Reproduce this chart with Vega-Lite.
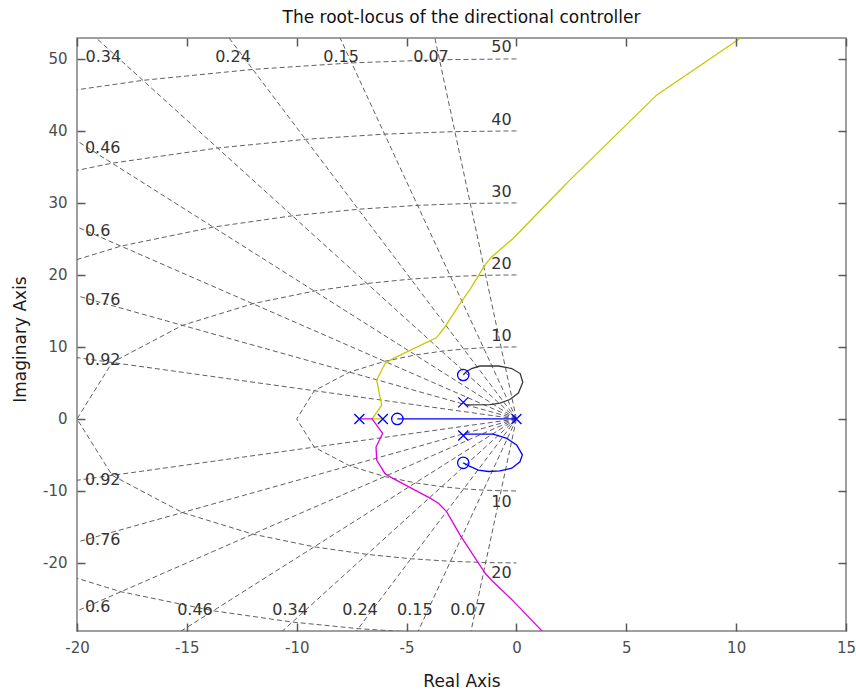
{
  "$schema": "https://vega.github.io/schema/vega-lite/v6.json",
  "width": 769,
  "height": 593,
  "autosize": "none",
  "padding": {"left": 77, "top": 38, "right": 10, "bottom": 61},
  "title": {"text": "The root-locus of the directional controller", "font": "DejaVu Sans", "fontSize": 17, "fontWeight": "normal", "color": "#111111", "offset": 15, "dy": 18, "baseline": "alphabetic", "anchor": "middle"},
  "datasets": {
    "rays": [
      {"g": "0.92u", "o": 0, "x": 0, "y": 0}, {"g": "0.92u", "o": 1, "x": -92, "y": 39.19},
      {"g": "0.92l", "o": 0, "x": 0, "y": 0}, {"g": "0.92l", "o": 1, "x": -92, "y": -39.19},
      {"g": "0.76u", "o": 0, "x": 0, "y": 0}, {"g": "0.76u", "o": 1, "x": -76, "y": 64.99},
      {"g": "0.76l", "o": 0, "x": 0, "y": 0}, {"g": "0.76l", "o": 1, "x": -76, "y": -64.99},
      {"g": "0.6u", "o": 0, "x": 0, "y": 0}, {"g": "0.6u", "o": 1, "x": -60, "y": 80},
      {"g": "0.6l", "o": 0, "x": 0, "y": 0}, {"g": "0.6l", "o": 1, "x": -60, "y": -80},
      {"g": "0.46u", "o": 0, "x": 0, "y": 0}, {"g": "0.46u", "o": 1, "x": -46, "y": 88.79},
      {"g": "0.46l", "o": 0, "x": 0, "y": 0}, {"g": "0.46l", "o": 1, "x": -46, "y": -88.79},
      {"g": "0.34u", "o": 0, "x": 0, "y": 0}, {"g": "0.34u", "o": 1, "x": -34, "y": 94.04},
      {"g": "0.34l", "o": 0, "x": 0, "y": 0}, {"g": "0.34l", "o": 1, "x": -34, "y": -94.04},
      {"g": "0.24u", "o": 0, "x": 0, "y": 0}, {"g": "0.24u", "o": 1, "x": -24, "y": 97.08},
      {"g": "0.24l", "o": 0, "x": 0, "y": 0}, {"g": "0.24l", "o": 1, "x": -24, "y": -97.08},
      {"g": "0.15u", "o": 0, "x": 0, "y": 0}, {"g": "0.15u", "o": 1, "x": -15, "y": 98.87},
      {"g": "0.15l", "o": 0, "x": 0, "y": 0}, {"g": "0.15l", "o": 1, "x": -15, "y": -98.87},
      {"g": "0.07u", "o": 0, "x": 0, "y": 0}, {"g": "0.07u", "o": 1, "x": -7, "y": 99.75},
      {"g": "0.07l", "o": 0, "x": 0, "y": 0}, {"g": "0.07l", "o": 1, "x": -7, "y": -99.75}
    ],
    "circles": [
      {"g": "r10", "o": 0, "x": 0, "y": 10}, {"g": "r10", "o": 1, "x": -0.7, "y": 9.975}, {"g": "r10", "o": 2, "x": -1.5, "y": 9.887}, {"g": "r10", "o": 3, "x": -2.4, "y": 9.708}, {"g": "r10", "o": 4, "x": -3.4, "y": 9.404}, {"g": "r10", "o": 5, "x": -4.6, "y": 8.879}, {"g": "r10", "o": 6, "x": -6, "y": 8}, {"g": "r10", "o": 7, "x": -7.6, "y": 6.499}, {"g": "r10", "o": 8, "x": -9.2, "y": 3.919}, {"g": "r10", "o": 9, "x": -10, "y": 0},
      {"g": "r10", "o": 10, "x": -9.2, "y": -3.919}, {"g": "r10", "o": 11, "x": -7.6, "y": -6.499}, {"g": "r10", "o": 12, "x": -6, "y": -8}, {"g": "r10", "o": 13, "x": -4.6, "y": -8.879}, {"g": "r10", "o": 14, "x": -3.4, "y": -9.404}, {"g": "r10", "o": 15, "x": -2.4, "y": -9.708}, {"g": "r10", "o": 16, "x": -1.5, "y": -9.887}, {"g": "r10", "o": 17, "x": -0.7, "y": -9.975}, {"g": "r10", "o": 18, "x": 0, "y": -10},
      {"g": "r20", "o": 0, "x": 0, "y": 20}, {"g": "r20", "o": 1, "x": -1.4, "y": 19.95}, {"g": "r20", "o": 2, "x": -3, "y": 19.77}, {"g": "r20", "o": 3, "x": -4.8, "y": 19.42}, {"g": "r20", "o": 4, "x": -6.8, "y": 18.81}, {"g": "r20", "o": 5, "x": -9.2, "y": 17.76}, {"g": "r20", "o": 6, "x": -12, "y": 16}, {"g": "r20", "o": 7, "x": -15.2, "y": 13}, {"g": "r20", "o": 8, "x": -18.4, "y": 7.84}, {"g": "r20", "o": 9, "x": -20, "y": 0},
      {"g": "r20", "o": 10, "x": -18.4, "y": -7.84}, {"g": "r20", "o": 11, "x": -15.2, "y": -13}, {"g": "r20", "o": 12, "x": -12, "y": -16}, {"g": "r20", "o": 13, "x": -9.2, "y": -17.76}, {"g": "r20", "o": 14, "x": -6.8, "y": -18.81}, {"g": "r20", "o": 15, "x": -4.8, "y": -19.42}, {"g": "r20", "o": 16, "x": -3, "y": -19.77}, {"g": "r20", "o": 17, "x": -1.4, "y": -19.95}, {"g": "r20", "o": 18, "x": 0, "y": -20},
      {"g": "r30", "o": 0, "x": 0, "y": 30}, {"g": "r30", "o": 1, "x": -2.1, "y": 29.93}, {"g": "r30", "o": 2, "x": -4.5, "y": 29.66}, {"g": "r30", "o": 3, "x": -7.2, "y": 29.12}, {"g": "r30", "o": 4, "x": -10.2, "y": 28.21}, {"g": "r30", "o": 5, "x": -13.8, "y": 26.64}, {"g": "r30", "o": 6, "x": -18, "y": 24}, {"g": "r30", "o": 7, "x": -22.8, "y": 19.5}, {"g": "r30", "o": 8, "x": -27.6, "y": 11.76}, {"g": "r30", "o": 9, "x": -30, "y": 0},
      {"g": "r30", "o": 10, "x": -27.6, "y": -11.76}, {"g": "r30", "o": 11, "x": -22.8, "y": -19.5}, {"g": "r30", "o": 12, "x": -18, "y": -24}, {"g": "r30", "o": 13, "x": -13.8, "y": -26.64}, {"g": "r30", "o": 14, "x": -10.2, "y": -28.21}, {"g": "r30", "o": 15, "x": -7.2, "y": -29.12}, {"g": "r30", "o": 16, "x": -4.5, "y": -29.66}, {"g": "r30", "o": 17, "x": -2.1, "y": -29.93}, {"g": "r30", "o": 18, "x": 0, "y": -30},
      {"g": "r40", "o": 0, "x": 0, "y": 40}, {"g": "r40", "o": 1, "x": -2.8, "y": 39.9}, {"g": "r40", "o": 2, "x": -6, "y": 39.55}, {"g": "r40", "o": 3, "x": -9.6, "y": 38.83}, {"g": "r40", "o": 4, "x": -13.6, "y": 37.62}, {"g": "r40", "o": 5, "x": -18.4, "y": 35.52}, {"g": "r40", "o": 6, "x": -24, "y": 32}, {"g": "r40", "o": 7, "x": -30.4, "y": 26}, {"g": "r40", "o": 8, "x": -36.8, "y": 15.68}, {"g": "r40", "o": 9, "x": -40, "y": 0},
      {"g": "r50", "o": 0, "x": 0, "y": 50}, {"g": "r50", "o": 1, "x": -3.5, "y": 49.88}, {"g": "r50", "o": 2, "x": -7.5, "y": 49.44}, {"g": "r50", "o": 3, "x": -12, "y": 48.54}, {"g": "r50", "o": 4, "x": -17, "y": 47.02}, {"g": "r50", "o": 5, "x": -23, "y": 44.4}, {"g": "r50", "o": 6, "x": -30, "y": 40}, {"g": "r50", "o": 7, "x": -38, "y": 32.5}, {"g": "r50", "o": 8, "x": -46, "y": 19.6}, {"g": "r50", "o": 9, "x": -50, "y": 0}
    ],
    "locus": [
      {"b": "y", "o": 0, "x": -6.08, "y": 0}, {"b": "y", "o": 1, "x": -6.57, "y": 0}, {"b": "y", "o": 2, "x": -6.13, "y": 1.9}, {"b": "y", "o": 3, "x": -6.36, "y": 5.4}, {"b": "y", "o": 4, "x": -5.98, "y": 7.7}, {"b": "y", "o": 5, "x": -5.6, "y": 8.4}, {"b": "y", "o": 6, "x": -3.63, "y": 11.3}, {"b": "y", "o": 7, "x": -3.25, "y": 12.8}, {"b": "y", "o": 8, "x": -2.57, "y": 16.0}, {"b": "y", "o": 9, "x": -2.11, "y": 18.0}, {"b": "y", "o": 10, "x": -1.43, "y": 21.4}, {"b": "y", "o": 11, "x": -1.13, "y": 22.5}, {"b": "y", "o": 12, "x": -0.14, "y": 25.1}, {"b": "y", "o": 13, "x": 1.99, "y": 31.8}, {"b": "y", "o": 14, "x": 2.44, "y": 33.2}, {"b": "y", "o": 15, "x": 6.39, "y": 45.0}, {"b": "y", "o": 16, "x": 9.87, "y": 52.2}, {"b": "y", "o": 17, "x": 11.0, "y": 54.6},
      {"b": "m", "o": 0, "x": -7.15, "y": 0}, {"b": "m", "o": 1, "x": -6.57, "y": 0}, {"b": "m", "o": 2, "x": -6.09, "y": -2.0}, {"b": "m", "o": 3, "x": -6.39, "y": -3.9}, {"b": "m", "o": 4, "x": -6.36, "y": -5.7}, {"b": "m", "o": 5, "x": -5.98, "y": -7.6}, {"b": "m", "o": 6, "x": -5.6, "y": -8.3}, {"b": "m", "o": 7, "x": -3.93, "y": -11.0}, {"b": "m", "o": 8, "x": -3.55, "y": -11.7}, {"b": "m", "o": 9, "x": -3.17, "y": -12.9}, {"b": "m", "o": 10, "x": -2.57, "y": -16.1}, {"b": "m", "o": 11, "x": -1.43, "y": -21.4}, {"b": "m", "o": 12, "x": -1.1, "y": -22.5}, {"b": "m", "o": 13, "x": -0.14, "y": -25.3}, {"b": "m", "o": 14, "x": 1.15, "y": -29.4}, {"b": "m", "o": 15, "x": 1.6, "y": -30.6},
      {"b": "k", "o": 0, "x": -2.42, "y": 2.3}, {"b": "k", "o": 1, "x": -2.3, "y": 1.95}, {"b": "k", "o": 2, "x": -1.2, "y": 2.0}, {"b": "k", "o": 3, "x": -0.75, "y": 2.2}, {"b": "k", "o": 4, "x": -0.3, "y": 2.7}, {"b": "k", "o": 5, "x": 0.09, "y": 3.6}, {"b": "k", "o": 6, "x": 0.29, "y": 5.1}, {"b": "k", "o": 7, "x": 0.17, "y": 6.3}, {"b": "k", "o": 8, "x": -0.21, "y": 7.0}, {"b": "k", "o": 9, "x": -0.82, "y": 7.35}, {"b": "k", "o": 10, "x": -1.66, "y": 7.35}, {"b": "k", "o": 11, "x": -2.04, "y": 7.0}, {"b": "k", "o": 12, "x": -2.3, "y": 6.5}, {"b": "k", "o": 13, "x": -2.42, "y": 6.1},
      {"b": "b", "o": 0, "x": -2.42, "y": -2.3}, {"b": "b", "o": 1, "x": -2.3, "y": -2.1}, {"b": "b", "o": 2, "x": -1.05, "y": -2.1}, {"b": "b", "o": 3, "x": -0.44, "y": -2.7}, {"b": "b", "o": 4, "x": 0.01, "y": -3.6}, {"b": "b", "o": 5, "x": 0.27, "y": -5.0}, {"b": "b", "o": 6, "x": 0.16, "y": -5.95}, {"b": "b", "o": 7, "x": -0.21, "y": -6.85}, {"b": "b", "o": 8, "x": -0.75, "y": -7.2}, {"b": "b", "o": 9, "x": -1.28, "y": -7.3}, {"b": "b", "o": 10, "x": -1.73, "y": -7.1}, {"b": "b", "o": 11, "x": -2.11, "y": -6.6}, {"b": "b", "o": 12, "x": -2.42, "y": -6.1},
      {"b": "r", "o": 0, "x": -5.42, "y": 0}, {"b": "r", "o": 1, "x": 0, "y": 0}
    ],
    "poles": [
      {"x": -7.15, "y": 0}, {"x": -6.08, "y": 0}, {"x": -2.42, "y": 2.3}, {"x": -2.42, "y": -2.3}, {"x": 0, "y": 0}
    ],
    "zeros": [
      {"x": -5.42, "y": 0}, {"x": -2.42, "y": 6.1}, {"x": -2.42, "y": -6.1}
    ],
    "labels": [
      {"k": "c", "t": "0.34", "x": -18.8, "y": 50.2}, {"k": "c", "t": "0.24", "x": -12.9, "y": 50.2}, {"k": "c", "t": "0.15", "x": -7.98, "y": 50.2}, {"k": "c", "t": "0.07", "x": -3.89, "y": 50.2},
      {"k": "c", "t": "0.46", "x": -14.63, "y": -26.5}, {"k": "c", "t": "0.34", "x": -10.3, "y": -26.5}, {"k": "c", "t": "0.24", "x": -7.12, "y": -26.5}, {"k": "c", "t": "0.15", "x": -4.62, "y": -26.5}, {"k": "c", "t": "0.07", "x": -2.2, "y": -26.5},
      {"k": "l", "t": "0.46", "x": -19.64, "y": 37.6}, {"k": "l", "t": "0.6", "x": -19.64, "y": 26.15}, {"k": "l", "t": "0.76", "x": -19.64, "y": 16.5}, {"k": "l", "t": "0.92", "x": -19.64, "y": 8.2}, {"k": "l", "t": "0.92", "x": -19.64, "y": -8.5}, {"k": "l", "t": "0.76", "x": -19.64, "y": -16.8}, {"k": "l", "t": "0.6", "x": -19.64, "y": -26.1},
      {"k": "r", "t": "50", "x": -0.22, "y": 51.7}, {"k": "r", "t": "40", "x": -0.22, "y": 41.5}, {"k": "r", "t": "30", "x": -0.22, "y": 31.5}, {"k": "r", "t": "20", "x": -0.22, "y": 21.5}, {"k": "r", "t": "10", "x": -0.22, "y": 11.55}, {"k": "r", "t": "10", "x": -0.22, "y": -11.5}, {"k": "r", "t": "20", "x": -0.22, "y": -21.4}
    ]
  },
  "layer": [
    {
      "mark": {"type": "rule", "color": "#606060", "strokeWidth": 1, "strokeDash": [5, 3]},
      "encoding": {"y": {"datum": 0, "type": "quantitative", "scale": {"domain": [-29.45, 52.9], "nice": false, "zero": false}, "axis": null}}
    },
    {
      "mark": {"type": "rule", "color": "#606060", "strokeWidth": 1, "strokeDash": [5, 3]},
      "encoding": {"x": {"datum": 0, "type": "quantitative", "scale": {"domain": [-20, 15], "nice": false, "zero": false}, "axis": null}}
    },
    {
      "data": {"name": "rays"},
      "mark": {"type": "line", "clip": true, "color": "#606060", "strokeWidth": 1, "strokeDash": [5, 3]},
      "encoding": {
        "x": {"field": "x", "type": "quantitative", "scale": {"domain": [-20, 15], "nice": false, "zero": false},
          "axis": {"orient": "bottom", "values": [-20, -15, -10, -5, 0, 5, 10, 15], "ticks": true, "tickSize": -8, "domain": false, "labelPadding": 17, "labelFlush": false, "labelOverlap": false, "labelExpr": "'' + datum.value", "title": "Real Axis", "titleY": 55, "titleBaseline": "alphabetic", "zindex": 1}},
        "y": {"field": "y", "type": "quantitative", "scale": {"domain": [-29.45, 52.9], "nice": false, "zero": false},
          "axis": {"orient": "left", "values": [-20, -10, 0, 10, 20, 30, 40, 50], "ticks": true, "tickSize": -8, "domain": false, "labelPadding": 18, "labelFlush": false, "labelOverlap": false, "labelExpr": "'' + datum.value", "title": "Imaginary Axis", "titleX": -52, "titleY": 301, "titleAngle": -90, "titleBaseline": "alphabetic", "zindex": 1}},
        "detail": {"field": "g"},
        "order": {"field": "o", "type": "quantitative"}
      }
    },
    {
      "data": {"name": "circles"},
      "mark": {"type": "line", "clip": true, "color": "#606060", "strokeWidth": 1, "strokeDash": [5, 3]},
      "encoding": {
        "x": {"field": "x", "type": "quantitative", "scale": {"domain": [-20, 15], "nice": false, "zero": false}, "axis": null},
        "y": {"field": "y", "type": "quantitative", "scale": {"domain": [-29.45, 52.9], "nice": false, "zero": false}, "axis": null},
        "detail": {"field": "g"},
        "order": {"field": "o", "type": "quantitative"}
      }
    },
    {
      "data": {"name": "locus"},
      "mark": {"type": "line", "clip": true, "strokeWidth": 1.3},
      "encoding": {
        "x": {"field": "x", "type": "quantitative", "scale": {"domain": [-20, 15], "nice": false, "zero": false},
          "axis": {"orient": "top", "values": [-20, -15, -10, -5, 0, 5, 10, 15], "labels": false, "domain": false, "ticks": true, "tickSize": -8, "title": null, "zindex": 1}},
        "y": {"field": "y", "type": "quantitative", "scale": {"domain": [-29.45, 52.9], "nice": false, "zero": false},
          "axis": {"orient": "right", "values": [-20, -10, 0, 10, 20, 30, 40, 50], "labels": false, "domain": false, "ticks": true, "tickSize": -8, "title": null, "zindex": 1}},
        "color": {"field": "b", "type": "nominal", "scale": {"domain": ["y", "m", "k", "b", "r"], "range": ["#c8c800", "#e000e0", "#3a3a3a", "#0000ff", "#0000ff"]}, "legend": null},
        "detail": {"field": "b"},
        "order": {"field": "o", "type": "quantitative"}
      }
    },
    {
      "data": {"name": "poles"},
      "mark": {"type": "point", "shape": "M-1,-1L1,1M-1,1L1,-1", "filled": false, "color": "#0000ff", "strokeWidth": 1.3, "size": 100, "opacity": 1},
      "encoding": {
        "x": {"field": "x", "type": "quantitative", "axis": null},
        "y": {"field": "y", "type": "quantitative", "axis": null}
      }
    },
    {
      "data": {"name": "zeros"},
      "mark": {"type": "point", "shape": "circle", "filled": false, "color": "#0000ff", "strokeWidth": 1.3, "size": 130, "opacity": 1},
      "encoding": {
        "x": {"field": "x", "type": "quantitative", "axis": null},
        "y": {"field": "y", "type": "quantitative", "axis": null}
      }
    },
    {
      "data": {"name": "labels"},
      "transform": [{"filter": "datum.k === 'c'"}],
      "mark": {"type": "text", "font": "DejaVu Sans", "fontSize": 16, "fill": "#333333", "align": "center", "baseline": "middle"},
      "encoding": {
        "x": {"field": "x", "type": "quantitative", "axis": null},
        "y": {"field": "y", "type": "quantitative", "axis": null},
        "text": {"field": "t"}
      }
    },
    {
      "data": {"name": "labels"},
      "transform": [{"filter": "datum.k === 'l'"}],
      "mark": {"type": "text", "font": "DejaVu Sans", "fontSize": 16, "fill": "#333333", "align": "left", "baseline": "middle"},
      "encoding": {
        "x": {"field": "x", "type": "quantitative", "axis": null},
        "y": {"field": "y", "type": "quantitative", "axis": null},
        "text": {"field": "t"}
      }
    },
    {
      "data": {"name": "labels"},
      "transform": [{"filter": "datum.k === 'r'"}],
      "mark": {"type": "text", "font": "DejaVu Sans", "fontSize": 16, "fill": "#333333", "align": "right", "baseline": "middle"},
      "encoding": {
        "x": {"field": "x", "type": "quantitative", "axis": null},
        "y": {"field": "y", "type": "quantitative", "axis": null},
        "text": {"field": "t"}
      }
    }
  ],
  "resolve": {"axis": {"x": "independent", "y": "independent"}},
  "config": {
    "view": {"stroke": "#808080", "strokeWidth": 1.5},
    "axis": {"grid": false, "labelFont": "DejaVu Sans", "labelFontSize": 15, "labelColor": "#4d4d4d", "titleFont": "DejaVu Sans", "titleFontSize": 17, "titleFontWeight": "normal", "titleColor": "#1a1a1a", "tickColor": "#595959", "tickWidth": 1.5, "tickOpacity": 1}
  }
}
